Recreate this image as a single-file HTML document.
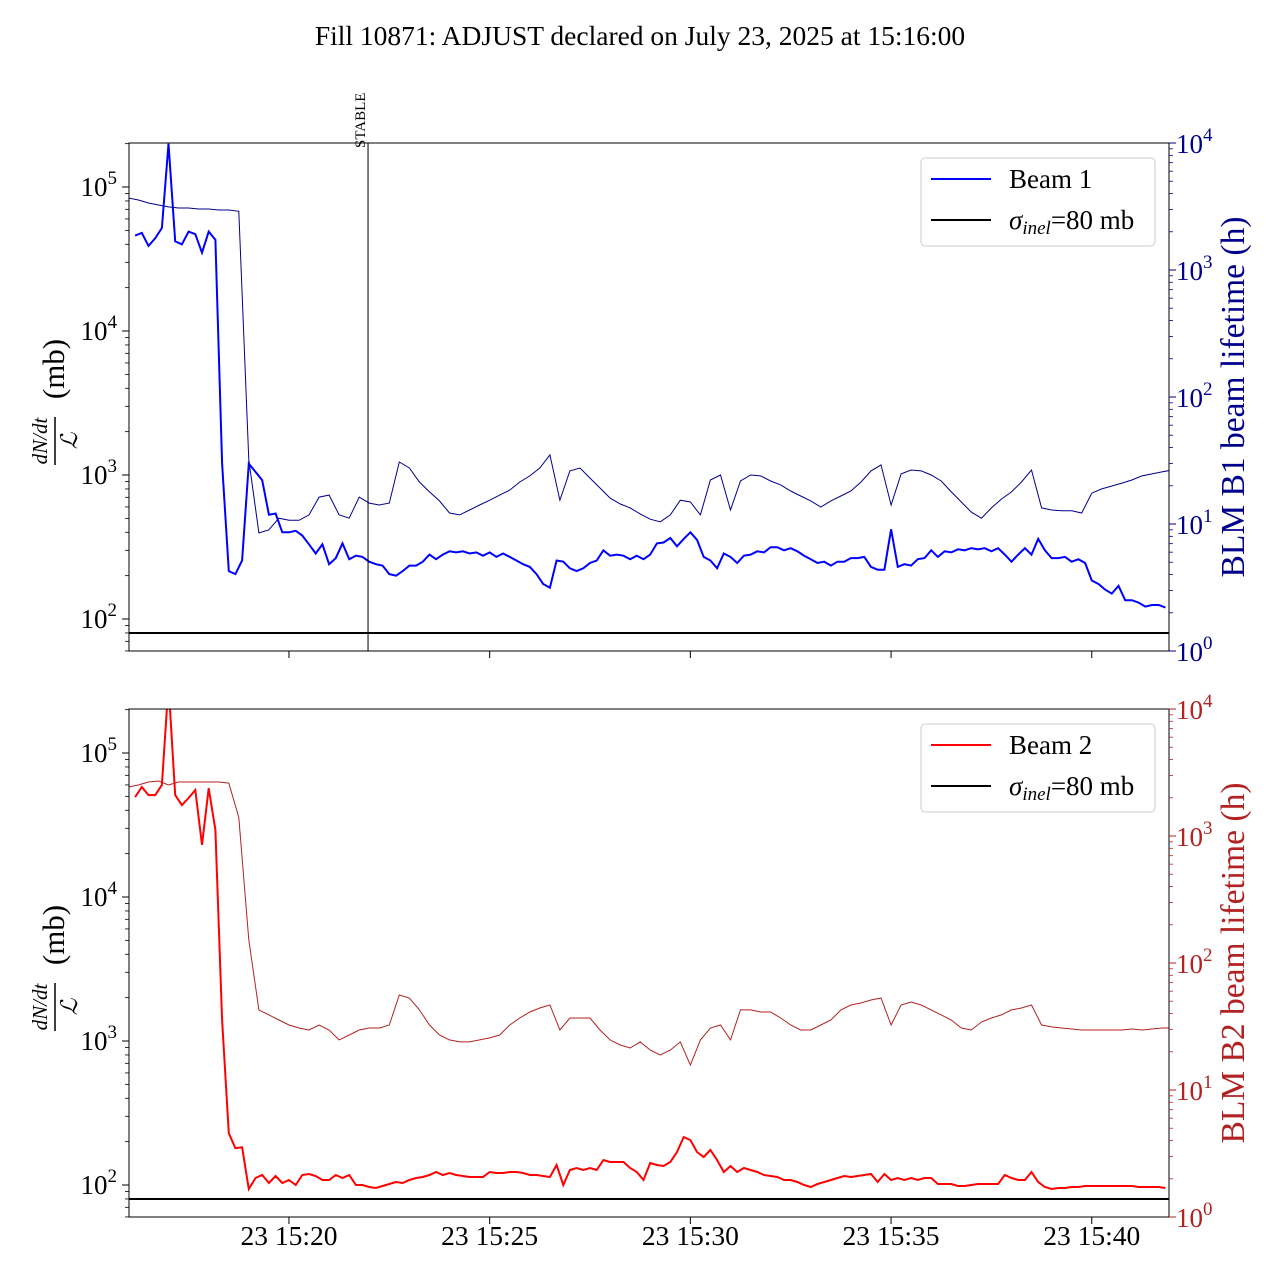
<!DOCTYPE html>
<html><head><meta charset="utf-8"><style>
html,body{margin:0;padding:0;background:#fff}
svg text{font-family:"Liberation Serif",serif}
</style></head><body>
<svg id="chart" xmlns="http://www.w3.org/2000/svg" width="1280" height="1280" viewBox="0 0 1280 1280">
<rect width="1280" height="1280" fill="#fff"/>
<text x="640" y="45" text-anchor="middle" font-size="27.5">Fill 10871: ADJUST declared on July 23, 2025 at 15:16:00</text>
<g id="p1"></g>
<g id="p2"></g>
</svg>
<script>
// dN/dt samples every 10 s starting 15:16:10 (mb)
const b1Rate = [46000,48000,39000,44000,52000,200000,42000,40000,49000,47000,35000,49000,43000,1200,215,205,255,1200,1050,920,530,540,400,400,410,380,330,285,330,240,265,335,260,275,270,250,240,235,205,200,215,235,235,250,280,260,280,295,290,295,285,290,275,290,270,285,270,255,240,230,205,175,165,255,250,225,215,225,245,255,300,275,280,275,260,275,260,280,335,340,365,320,360,400,355,270,255,225,285,270,245,275,280,295,290,315,315,300,310,295,275,260,245,250,235,250,250,265,265,270,230,220,220,420,230,240,235,260,265,300,270,295,290,305,300,310,305,310,295,310,280,250,280,310,280,360,300,265,265,270,250,260,245,185,175,160,150,170,135,135,130,122,125,125,120];
const b2Rate = [49400,58100,51000,51000,60000,300000,51000,43500,48700,55300,23000,57000,29200,1400,229,180,183,93.8,111.8,117.3,103.2,115.5,103.2,108.3,100,117.3,119.2,115.5,108.3,108.3,117.3,111.8,117.3,100,100,96.8,95.3,98.4,101.6,104.9,103.2,108.3,111.8,113.6,117.3,123.1,117.3,121.1,117.3,115.5,113.6,113.6,113.6,123.1,121.1,121.1,123.1,123.1,121.1,117.3,117.3,115.5,113.6,137.7,100,127.1,131.2,127.1,131.2,127.1,149.2,144.4,144.4,144.4,131.2,123.1,108.3,142.2,137.7,135.5,144.4,169.5,215,205,169.5,156.5,174.9,149.2,123.1,135.5,123.1,131.2,127.1,123.1,117.3,115.5,113.6,108.3,108.3,104.9,100,96.8,101.6,104.9,108.3,111.8,115.5,113.6,115.5,117.3,119.2,104.9,119.2,108.3,111.8,108.3,111.8,108.3,111.8,111.8,101.6,101.6,101.6,98.4,98.4,100,101.6,101.6,101.6,101.6,117.3,111.8,108.3,108.3,123.1,104.9,96.8,93.8,95.3,95.3,96.8,96.8,98.4,98.4,98.4,98.4,98.4,98.4,98.4,98.4,96.8,96.8,96.8,96.8,95.3];
// BLM lifetime samples every 15 s starting 15:16:00 (h)
const b1Life = [3690,3560,3370,3250,3140,3080,3080,3020,3020,2970,2970,2900,31.9,8.5,9.0,11.1,10.7,10.7,11.8,16.3,16.9,11.8,11.1,16.3,14.6,14.1,14.6,30.8,27.6,21.4,17.9,15.2,12.2,11.8,12.9,14.1,15.4,16.9,18.5,21.4,23.9,27.6,35,15.4,26.2,27.6,23.0,19.2,16.0,14.4,13.4,12.0,10.9,10.4,11.8,15.4,14.9,11.8,22.2,24.3,12.9,21.8,24.3,23.9,21.8,20.3,18.2,16.6,15.2,13.6,15.2,16.6,18.2,21.4,26.2,29.2,14.1,24.8,26.6,26.2,24.3,21.8,17.9,14.9,12.4,11.1,13.4,15.7,17.9,21.4,26.6,13.4,12.9,12.7,12.7,12.2,17.5,18.9,19.9,21.0,22.2,23.9,24.8,25.7,26.6];
const b2Life = [2430,2520,2660,2710,2520,2660,2660,2660,2660,2660,2610,1400,152,42.7,39.0,35.6,32.5,30.8,29.7,32.5,29.7,24.8,27.1,29.7,30.8,30.8,32.5,56.0,53.0,42.7,32.5,27.1,24.8,23.9,23.9,24.8,25.7,27.1,32.5,36.9,41.1,44.2,46.7,29.7,36.9,36.9,36.9,29.7,24.8,22.6,21.4,23.9,20.6,18.9,20.6,23.9,15.7,24.8,30.8,32.5,24.8,42.7,42.7,41.1,41.1,36.9,32.5,29.7,29.7,32.5,35.6,42.7,46.7,48.4,51.1,53.0,32.5,46.7,49.3,46.7,42.7,39.0,35.6,30.8,29.7,34.3,36.9,39.0,42.7,44.2,46.7,32.5,31.4,30.8,30.2,29.7,29.7,29.7,29.7,29.7,30.2,29.7,30.2,30.8,30.8];
const xTickLabels = ["23 15:20","23 15:25","23 15:30","23 15:35","23 15:40"];
const xTickMinutes = [4,9,14,19,24];
const sigmaInel = 80;
const stableMinute = 5.97;

const NS="http://www.w3.org/2000/svg";
const X0=129,X1=1169;
function xs(min){return 128.4+min*40.14;}
function mk(parent,tag,attrs){const e=document.createElementNS(NS,tag);for(const k in attrs)e.setAttribute(k,attrs[k]);parent.appendChild(e);return e;}

function panel(g,top,rate,life,cRate,cLife,beamName,rightLabel,showX){
  const bot=top+508;
  const yL=v=>top+476-(Math.log10(v)-2)*144;
  const yR=v=>bot-Math.log10(v)*127;
  const clip='clip'+top;
  const cp=mk(g,'clipPath',{id:clip});
  mk(cp,'rect',{x:X0,y:top,width:X1-X0,height:508});
  let d=life.map((v,i)=>(i?'L':'M')+xs(i*0.25).toFixed(1)+','+yR(v).toFixed(1)).join('');
  let e=mk(g,'path',{d:d,fill:'none',stroke:cLife,'stroke-width':1,'clip-path':`url(#${clip})`});
  
  
  d=rate.map((v,i)=>(i?'L':'M')+xs((i+1)/6).toFixed(1)+','+yL(v).toFixed(1)).join('');
  e=mk(g,'path',{d:d,fill:'none',stroke:cRate,'stroke-width':2,'clip-path':`url(#${clip})`});
  
  
  e=mk(g,'line',{x1:X0,x2:X1,y1:yL(sigmaInel),y2:yL(sigmaInel),stroke:'#000','stroke-width':2});
  
  
  e=mk(g,'rect',{x:X0,y:top,width:X1-X0,height:508,fill:'none',stroke:'#000','stroke-width':1});
  
  
  for(let p=1;p<=5;p++){for(let m=1;m<10;m++){const v=m*Math.pow(10,p);const y=yL(v);if(y<top-0.5||y>bot+0.5)continue;
    mk(g,'line',{x1:X0,x2:X0-(m==1?7:4),y1:y,y2:y,stroke:'#000','stroke-width':m==1?1:0.8});
    if(m==1&&p>=2){const t=mk(g,'text',{x:X0-12,y:y+9,'text-anchor':'end','font-size':27});
      
      
      t.innerHTML='10<tspan dy="-12" font-size="19">'+p+'</tspan>';}}}
  for(let p=0;p<=4;p++){for(let m=1;m<10;m++){const v=m*Math.pow(10,p);const y=yR(v);if(y<top-0.5)continue;
    mk(g,'line',{x1:X1,x2:X1+(m==1?7:4),y1:y,y2:y,stroke:cLife,'stroke-width':m==1?1:0.8});
    if(m==1){const t=mk(g,'text',{x:X1+7,y:y+10,'font-size':27,fill:cLife});
      
      
      t.innerHTML='10<tspan dy="-12" font-size="19">'+p+'</tspan>';}}}
  xTickMinutes.forEach((m,i)=>{const x=xs(m);mk(g,'line',{x1:x,x2:x,y1:bot,y2:bot+7,stroke:'#000'});
    if(showX){const t=mk(g,'text',{x:x,y:bot+28,'text-anchor':'middle','font-size':27.5});
      
      
      t.textContent=xTickLabels[i];}});
  const cy=top+254;
  const lg=mk(g,'g',{transform:`translate(55,${cy}) rotate(-90)`});
  
  
  mk(lg,'text',{x:-44,y:-8,'text-anchor':'middle','font-size':21,'font-style':'italic'}).textContent='dN/dt';
  mk(lg,'line',{x1:-68,x2:-20,y1:0,y2:0,stroke:'#000','stroke-width':1.5});
  mk(lg,'text',{x:-44,y:22,'text-anchor':'middle','font-size':23,'font-style':'italic'}).textContent='ℒ';
  mk(lg,'text',{x:28,y:9,'text-anchor':'middle','font-size':31}).textContent='(mb)';
  const rt=mk(g,'text',{transform:`translate(1244,${cy}) rotate(-90)`,'text-anchor':'middle','font-size':33.5,fill:cLife});
  
  
  rt.textContent=rightLabel;
  const L=mk(g,'g',{});
  
  
  mk(L,'rect',{x:921,y:top+15,width:234,height:88,rx:4,fill:'#fff',stroke:'#ccc','stroke-width':1});
  mk(L,'line',{x1:931,x2:991,y1:top+36,y2:top+36,stroke:cRate,'stroke-width':2});
  mk(L,'text',{x:1009,y:top+45,'font-size':27}).textContent=beamName;
  mk(L,'line',{x1:931,x2:991,y1:top+77,y2:top+77,stroke:'#000','stroke-width':2});
  const st=mk(L,'text',{x:1009,y:top+86,'font-size':27});
  st.innerHTML='<tspan font-style="italic">σ</tspan><tspan font-style="italic" font-size="19" dy="5">inel</tspan><tspan dy="-5">=80 mb</tspan>';
}
const p1=document.getElementById('p1'),p2=document.getElementById('p2');
panel(p1,143,b1Rate,b1Life,'#0000ff','#00008b','Beam 1','BLM B1 beam lifetime (h)',false);
panel(p2,709,b2Rate,b2Life,'#ff0000','#b22222','Beam 2','BLM B2 beam lifetime (h)',true);
const sx=xs(stableMinute);
let s=mk(p1,'line',{x1:sx,x2:sx,y1:143,y2:651,stroke:'#000','stroke-width':1});


s=mk(p1,'text',{transform:`translate(${sx-3},148) rotate(-90)`,'font-size':15});


s.textContent='STABLE';
</script>
</body></html>
